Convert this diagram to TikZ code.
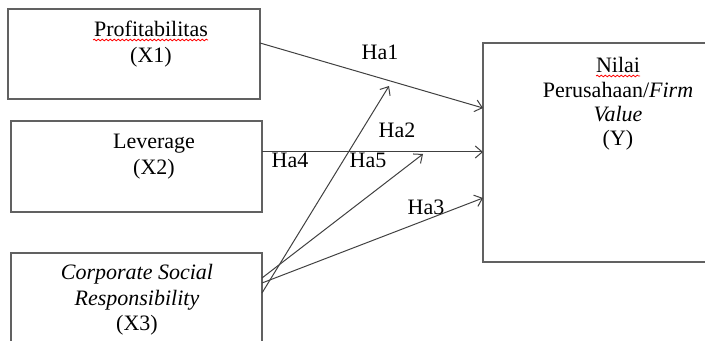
\documentclass[tikz,border=0pt]{standalone}
\usepackage{fontspec}
\setmainfont{Liberation Serif}
\usetikzlibrary{calc,arrows.meta,decorations.pathmorphing}

\begin{document}
\begin{tikzpicture}[x=0.5pt, y=-0.5pt,
	box/.style={draw=black!62, line width=0.7pt, inner sep=0pt, outer sep=0pt, anchor=north west},
	txt/.style={font=\fontsize{11}{12.75}\selectfont, align=center, inner sep=0pt, anchor=north},
	hyp/.style={font=\fontsize{11}{13}\selectfont, inner sep=0pt},
	link/.style={draw=black!75, line width=0.5pt, -{Straight Barb[length=3.5pt,width=6pt]}},
	wavy/.style={draw=red, line width=0.4pt, decorate, decoration={snake, amplitude=0.4pt, segment length=2pt}}]
			%%%%% START %%%%%
			\useasboundingbox (0,0) rectangle (705,341);
			\clip (0,0) rectangle (705,341);
			
			\node[box, minimum width=126pt, minimum height=45pt] (x1) at (8,9) {};
			\node[box, minimum width=125.5pt, minimum height=45.5pt] (x2) at (11,121) {};
			\node[box, minimum width=125.5pt, minimum height=55pt] (x3) at (11,253) {};
			\node[box, minimum width=118.5pt, minimum height=109.5pt] (y) at (483,43) {};
			
			\node[txt] (tx1) at (151,21) {Profitabilitas\\(X1)};
			\node[txt] (tx2) at (154,134) {Leverage\\(X2)};
			\node[txt] (tx3) at (137,264) {\textit{Corporate Social}\\\textit{Responsibility}\\(X3)};
			\node[txt, font=\fontsize{11}{12.2}\selectfont] (ty) at (618,57) {Nilai\\Perusahaan/\textit{Firm}\\\textit{Value}\\(Y)};
			
			\draw[wavy] (93,40) -- (208,40);
			\draw[wavy] (596,76) -- (640,76);
			
			\coordinate (h4end) at (389,86);
			\coordinate (h5end) at (423,154);
			
			\draw[link] ($(x1.north east)+(0,34)$) -- ($(y.north west)+(0,65)$);
			\draw[link] ($(x2.north east)+(0,31)$) -- ($(y.north west)+(0,109)$);
			\draw[link] ($(x3.north east)+(0,30)$) -- ($(y.north west)+(0,155)$);
			\draw[link] ($(x3.north east)+(0,40)$) -- (h4end);
			\draw[link] ($(x3.north east)+(0,25)$) -- (h5end);
			
			\node[hyp] (ha1) at (380,52) {Ha1};
			\node[hyp] (ha2) at (397,130) {Ha2};
			\node[hyp] (ha3) at (426,207) {Ha3};
			\node[hyp] (ha4) at (290,160) {Ha4};
			\node[hyp] (ha5) at (368,160) {Ha5};
			%%%%% END %%%%%
\end{tikzpicture}
\end{document}
